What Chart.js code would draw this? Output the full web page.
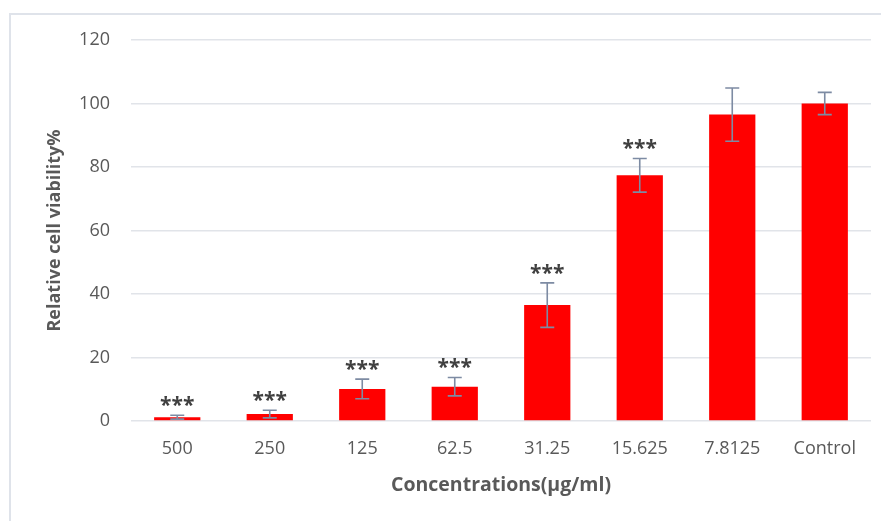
<!DOCTYPE html>
<html>
<head>
<meta charset="utf-8">
<script src="https://cdn.jsdelivr.net/npm/chart.js@4.4.1/dist/chart.umd.min.js"></script>
<style>
  html, body { margin: 0; padding: 0; background: #fff; overflow: hidden; }
  #wrap { position: relative; width: 881px; height: 521px; }
  #frame { position: absolute; left: 9px; top: 13px; width: 900px; height: 600px; border: 2px solid #dfe3ea; }
  canvas { position: absolute; left: 0; top: 0; }
</style>
</head>
<body>
<div id="wrap">
  <div id="frame"></div>
  <canvas id="chart" width="881" height="521"></canvas>
</div>
<script>
// concentrations (µg/ml) and the measured viability
const labels = ['500', '250', '125', '62.5', '31.25', '15.625', '7.8125', 'Control'];
const viability = [1.2, 2.2, 10.1, 10.8, 36.5, 77.4, 96.5, 100];
const errors = [0.6, 1.2, 3.1, 2.9, 7.0, 5.3, 8.4, 3.5];
const significance = ['***', '***', '***', '***', '***', '***', '', ''];
const yTicks = [0, 20, 40, 60, 80, 100, 120];

const textColor = '#595959';
const fontFamily = '"Open Sans", Lato, sans-serif';

// error bars + stars drawn on top of the bars
const errorBarPlugin = {
    id: 'errorBars',
    afterDatasetsDraw(chart) {
        const ctx = chart.ctx;
        const meta = chart.getDatasetMeta(0);
        const yScale = chart.scales.y;
        ctx.save();
        meta.data.forEach((bar, i) => {
            const x = bar.x;
            const top = yScale.getPixelForValue(viability[i] + errors[i]);
            const bottom = yScale.getPixelForValue(viability[i] - errors[i]);
            ctx.strokeStyle = '#7d8ba3';
            ctx.lineWidth = 1.6;
            ctx.beginPath();
            ctx.moveTo(x, top);
            ctx.lineTo(x, bottom);
            ctx.moveTo(x - 7, top);
            ctx.lineTo(x + 7, top);
            ctx.moveTo(x - 7, bottom);
            ctx.lineTo(x + 7, bottom);
            ctx.stroke();

            if (significance[i]) {
                ctx.fillStyle = '#404040';
                ctx.font = 'bold 21px ' + fontFamily;
                ctx.textAlign = 'center';
                ctx.textBaseline = 'middle';
                ctx.fillText(significance[i], x, top - 9);
            }
        });
        ctx.restore();
    }
};

new Chart(document.getElementById('chart'), {
    type: 'bar',
    data: {
        labels: labels,
        datasets: [{
            data: viability,
            backgroundColor: '#ff0000',
            borderWidth: 0,
            categoryPercentage: 1,
            barPercentage: 0.5
        }]
    },
    options: {
        responsive: false,
        animation: false,
        layout: { padding: { left: 0, right: 10, top: 40, bottom: 0 } },
        plugins: {
            legend: { display: false },
            tooltip: { enabled: false }
        },
        scales: {
            x: {
                grid: { display: false, drawTicks: false },
                border: { display: false },
                ticks: { color: textColor, font: { family: fontFamily, size: 18 }, padding: 17, maxRotation: 0 },
                title: {
                    display: true,
                    text: 'Concentrations(μg/ml)',
                    color: textColor,
                    font: { family: fontFamily, size: 19.5, weight: 'bold' },
                    padding: { top: 0, bottom: 24 }
                },
                afterFit(scale) { scale.height = 100; }
            },
            y: {
                min: 0,
                max: 120,
                afterBuildTicks(scale) { scale.ticks = yTicks.map(v => ({ value: v })); },
                grid: { color: '#e1e4e9', lineWidth: 1.4, drawTicks: false },
                border: { display: false },
                ticks: { color: textColor, font: { family: fontFamily, size: 18 }, padding: 21 },
                title: {
                    display: true,
                    text: 'Relative cell viability%',
                    color: textColor,
                    font: { family: fontFamily, size: 18, weight: 'bold' },
                    padding: { top: 44, bottom: 0 }
                },
                afterFit(scale) { scale.width = 131; }
            }
        }
    },
    plugins: [errorBarPlugin]
});
</script>
</body>
</html>
